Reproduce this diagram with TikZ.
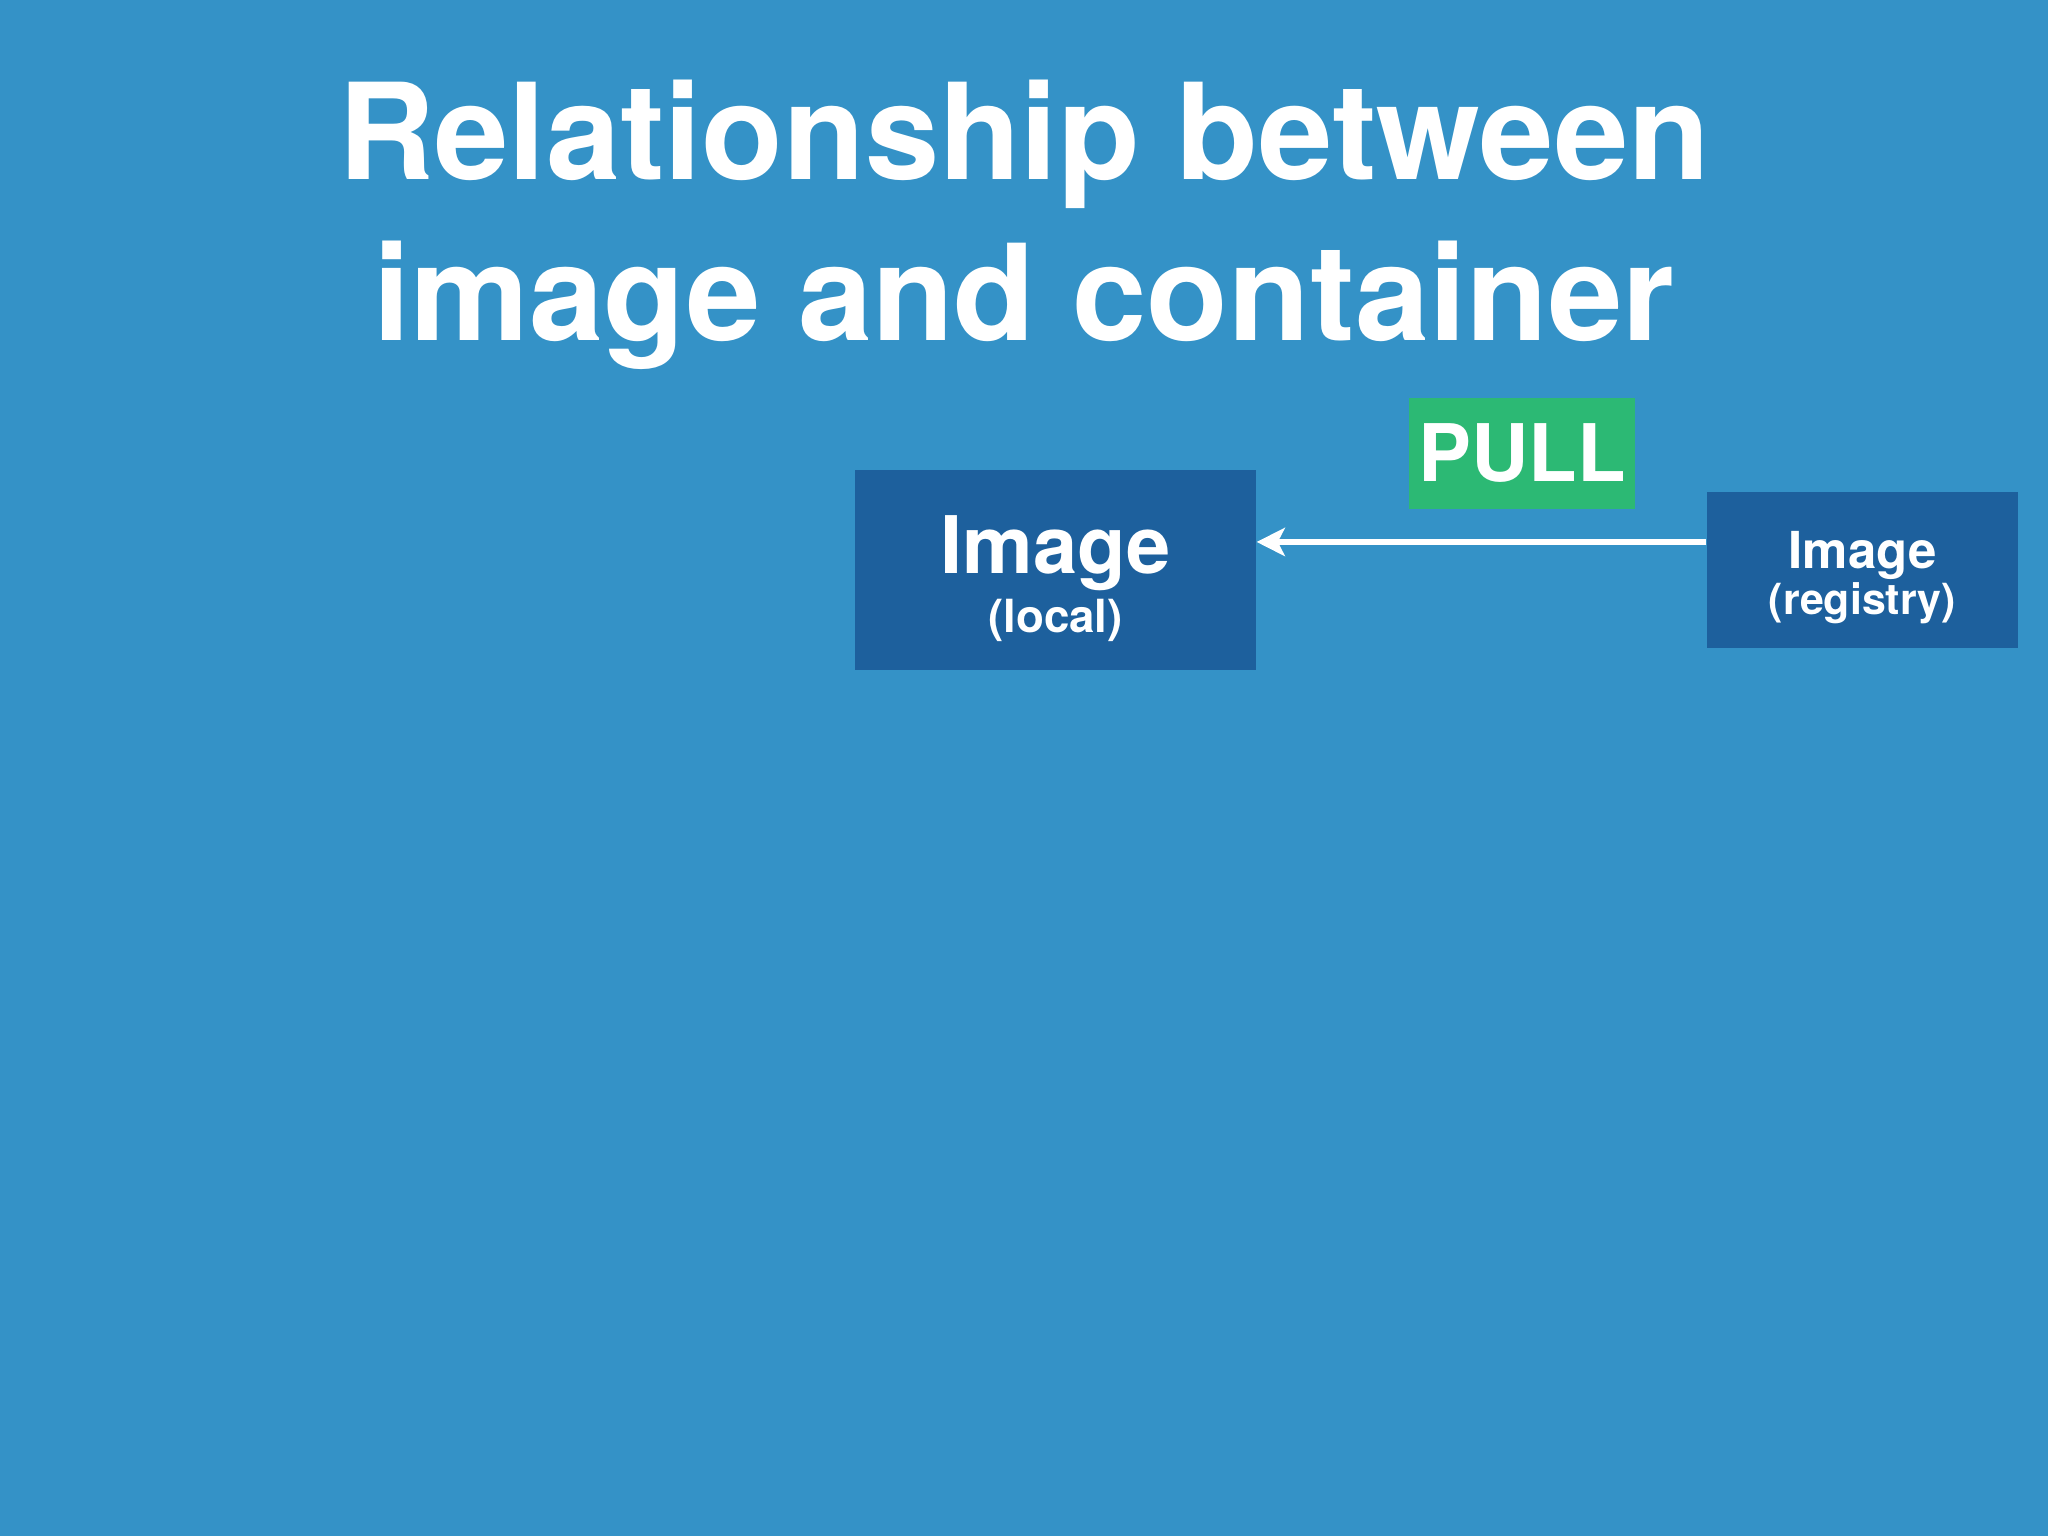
\documentclass[tikz,border=0pt]{standalone}
\usepackage{fontspec}
\setmainfont{TeX Gyre Heros}
\usepackage{tikz}
\usetikzlibrary{arrows.meta,positioning}
\definecolor{slideblue}{RGB}{52,146,199}
\definecolor{boxblue}{RGB}{29,96,157}
\definecolor{pullgreen}{RGB}{44,185,116}
\tikzset{
    imgbox/.style={fill=boxblue, inner sep=0pt},
    boxtext/.style={align=center, anchor=base, inner sep=0pt},
    pullarrow/.style={draw=white, line width=1.9pt, -{Stealth[length=8pt,width=8pt,inset=2pt]}}
}

\begin{document}
\begin{tikzpicture}[font=\bfseries, text=white]
                    \fill[slideblue] (0,0) rectangle (20.48,15.36);
                    \useasboundingbox (0,0) rectangle (20.48,15.36);

                    \node (title) [anchor=base, align=center, font=\bfseries\fontsize{38}{46}\selectfont]
                          at (10.24,11.95) {Relationship between\\image and container};

                    \node (loc)   [imgbox, minimum width=4.01cm, minimum height=2cm] at (10.555,9.66) {};
                    \node (reg)   [imgbox, minimum width=3.11cm, minimum height=1.56cm, right of=loc, node distance=8.07cm] {};
                    \node (pull)  [fill=pullgreen, minimum width=2.26cm, minimum height=1.11cm, inner sep=0pt,
                                   font=\bfseries\fontsize{22.6}{24}\selectfont] at (15.22,10.825) {PULL};

                    \node (loctext) [boxtext] at ([yshift=-6.3mm]loc.center)
                          {{\fontsize{22.6}{24}\selectfont Image}\\[1.4pt]{\fontsize{13}{14}\selectfont (local)}};
                    \node (regtext) [boxtext] at ([yshift=-4.5mm]reg.center)
                          {{\fontsize{14.5}{14}\selectfont Image}\\{\fontsize{12.2}{14}\selectfont (registry)}};

                    \draw[pullarrow] ([yshift=2.8mm]reg.west) -- ([yshift=2.8mm]loc.east);
                \end{tikzpicture}
\end{document}
